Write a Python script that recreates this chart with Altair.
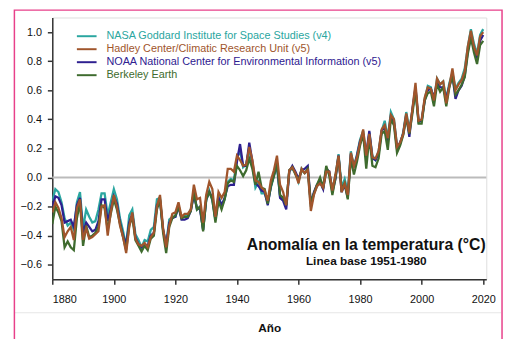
import altair as alt
import pandas as pd

years = list(range(1880, 2021))

series_names = [
    "NASA Goddard Institute for Space Studies (v4)",
    "Hadley Center/Climatic Research Unit (v5)",
    "NOAA National Center for Environmental Information (v5)",
    "Berkeley Earth",
]
series_colors = ["#2aa6a0", "#a0552c", "#2e2090", "#3e6b2e"]

nasa = [
    -0.16, -0.08, -0.10, -0.17, -0.28, -0.33, -0.31, -0.36, -0.17, -0.10,
    -0.35, -0.22, -0.27, -0.31, -0.30, -0.22, -0.11, -0.11, -0.26, -0.17,
    -0.08, -0.15, -0.28, -0.37, -0.47, -0.26, -0.22, -0.39, -0.43, -0.48,
    -0.43, -0.44, -0.36, -0.34, -0.15, -0.14, -0.36, -0.46, -0.29, -0.27,
    -0.27, -0.19, -0.28, -0.26, -0.27, -0.22, -0.10, -0.22, -0.20, -0.36,
    -0.16, -0.09, -0.16, -0.29, -0.12, -0.20, -0.15, -0.03, -0.01, -0.02,
    0.13, 0.19, 0.07, 0.09, 0.20, 0.09, -0.07, -0.03, -0.11, -0.11,
    -0.17, -0.07, 0.01, 0.08, -0.13, -0.14, -0.19, 0.05, 0.06, 0.03,
    -0.03, 0.06, 0.03, 0.05, -0.20, -0.11, -0.06, -0.02, -0.08, 0.05,
    0.03, -0.08, 0.01, 0.16, -0.07, -0.01, -0.10, 0.18, 0.07, 0.16,
    0.26, 0.32, 0.14, 0.31, 0.15, 0.12, 0.18, 0.32, 0.39, 0.27,
    0.45, 0.40, 0.22, 0.23, 0.31, 0.45, 0.33, 0.46, 0.61, 0.38,
    0.39, 0.54, 0.63, 0.62, 0.53, 0.68, 0.64, 0.66, 0.54, 0.65,
    0.72, 0.61, 0.65, 0.68, 0.75, 0.90, 1.02, 0.92, 0.85, 0.98, 1.02,
]

hadley = [
    -0.24, -0.17, -0.21, -0.28, -0.41, -0.37, -0.34, -0.43, -0.21, -0.15,
    -0.43, -0.35, -0.42, -0.41, -0.39, -0.37, -0.20, -0.19, -0.40, -0.24,
    -0.12, -0.20, -0.33, -0.41, -0.52, -0.34, -0.24, -0.42, -0.46, -0.47,
    -0.45, -0.48, -0.41, -0.38, -0.20, -0.12, -0.35, -0.48, -0.33, -0.25,
    -0.24, -0.17, -0.27, -0.25, -0.25, -0.22, -0.05, -0.15, -0.14, -0.31,
    -0.12, -0.03, -0.08, -0.27, -0.10, -0.14, -0.10, 0.06, 0.06, 0.04,
    0.15, 0.12, 0.08, 0.09, 0.21, 0.12, -0.02, -0.03, -0.07, -0.09,
    -0.16, -0.02, 0.05, 0.15, -0.05, -0.10, -0.19, 0.05, 0.07, 0.03,
    -0.04, 0.06, 0.03, 0.05, -0.23, -0.12, -0.06, -0.04, -0.07, 0.04,
    0.04, -0.09, 0.02, 0.15, -0.10, -0.04, -0.12, 0.17, 0.08, 0.14,
    0.24, 0.33, 0.15, 0.30, 0.14, 0.13, 0.18, 0.33, 0.36, 0.27,
    0.43, 0.40, 0.21, 0.24, 0.30, 0.44, 0.31, 0.47, 0.65, 0.39,
    0.40, 0.55, 0.62, 0.61, 0.53, 0.68, 0.64, 0.66, 0.51, 0.63,
    0.75, 0.60, 0.64, 0.67, 0.73, 0.90, 1.01, 0.90, 0.84, 0.97, 1.00,
]

noaa = [
    -0.20, -0.13, -0.14, -0.19, -0.31, -0.30, -0.29, -0.34, -0.19, -0.14,
    -0.38, -0.31, -0.34, -0.37, -0.36, -0.30, -0.15, -0.15, -0.30, -0.22,
    -0.13, -0.18, -0.31, -0.40, -0.46, -0.31, -0.25, -0.41, -0.46, -0.48,
    -0.46, -0.47, -0.40, -0.38, -0.19, -0.16, -0.36, -0.47, -0.31, -0.28,
    -0.27, -0.20, -0.29, -0.29, -0.28, -0.23, -0.12, -0.21, -0.22, -0.36,
    -0.15, -0.10, -0.14, -0.29, -0.14, -0.19, -0.14, -0.06, -0.05, -0.05,
    0.11, 0.23, 0.08, 0.08, 0.24, 0.11, -0.04, -0.06, -0.09, -0.10,
    -0.19, -0.06, 0.02, 0.10, -0.14, -0.16, -0.22, 0.04, 0.08, 0.04,
    -0.01, 0.05, 0.06, 0.08, -0.18, -0.10, -0.05, -0.03, -0.08, 0.06,
    0.04, -0.10, -0.01, 0.15, -0.10, -0.05, -0.14, 0.16, 0.07, 0.15,
    0.25, 0.29, 0.16, 0.32, 0.13, 0.12, 0.16, 0.32, 0.35, 0.25,
    0.42, 0.38, 0.20, 0.24, 0.30, 0.43, 0.28, 0.47, 0.62, 0.39,
    0.39, 0.53, 0.60, 0.61, 0.55, 0.65, 0.62, 0.62, 0.54, 0.63,
    0.70, 0.54, 0.60, 0.63, 0.70, 0.87, 0.97, 0.89, 0.82, 0.94, 0.98,
]

berkeley = [
    -0.32, -0.20, -0.24, -0.30, -0.48, -0.44, -0.48, -0.50, -0.28, -0.17,
    -0.47, -0.33, -0.41, -0.40, -0.38, -0.34, -0.19, -0.21, -0.36, -0.25,
    -0.15, -0.22, -0.32, -0.41, -0.50, -0.33, -0.27, -0.43, -0.47, -0.51,
    -0.47, -0.50, -0.42, -0.40, -0.22, -0.15, -0.38, -0.52, -0.34, -0.28,
    -0.26, -0.20, -0.28, -0.27, -0.27, -0.23, -0.10, -0.22, -0.20, -0.37,
    -0.15, -0.10, -0.15, -0.31, -0.16, -0.22, -0.15, -0.04, -0.02, -0.03,
    0.08, 0.05, 0.01, 0.05, 0.13, 0.06, -0.05, 0.04, -0.07, -0.08,
    -0.18, -0.06, 0.01, 0.10, -0.12, -0.14, -0.19, 0.05, 0.07, 0.02,
    -0.02, 0.05, 0.03, 0.06, -0.18, -0.11, -0.05, 0.00, -0.07, 0.08,
    0.01, -0.12, 0.00, 0.14, -0.08, -0.04, -0.15, 0.13, 0.02, 0.11,
    0.22, 0.30, 0.06, 0.28, 0.08, 0.07, 0.13, 0.30, 0.32, 0.19,
    0.40, 0.36, 0.17, 0.22, 0.29, 0.41, 0.30, 0.44, 0.60, 0.37,
    0.37, 0.53, 0.58, 0.59, 0.49, 0.64, 0.59, 0.62, 0.49, 0.62,
    0.70, 0.57, 0.60, 0.64, 0.69, 0.85, 0.96, 0.86, 0.78, 0.91, 0.94,
]

x_ticks = [1880, 1900, 1920, 1940, 1960, 1980, 2000, 2020]
y_ticks = [-0.6, -0.4, -0.2, 0.0, 0.2, 0.4, 0.6, 0.8, 1.0]

# draw order: NASA, NOAA, Berkeley, Hadley (Hadley on top)
values_by_name = {
    series_names[0]: nasa,
    series_names[1]: hadley,
    series_names[2]: noaa,
    series_names[3]: berkeley,
}
draw_order = [series_names[0], series_names[2], series_names[3], series_names[1]]
rows = []
for k, name in enumerate(draw_order):
    for yr, v in zip(years, values_by_name[name]):
        rows.append({"year": yr, "anom": v, "series": name, "ord": k})
df = pd.DataFrame(rows)

FONT = "Liberation Sans"

color_expr = " : ".join(
    f"datum.value === '{n}' ? '{c}'" for n, c in zip(series_names, series_colors)
) + " : '#333'"

xscale = alt.Scale(domain=[1880, 2021], nice=False, zero=False)
yscale = alt.Scale(domain=[-0.7, 1.1], nice=False, zero=False)

lines = alt.Chart(df).mark_line(strokeWidth=2.3, clip=True).encode(
    x=alt.X("year:Q", scale=xscale,
            axis=alt.Axis(values=x_ticks, format="d", title="Año", grid=False,
                          tickSize=5, tickColor="#333", domainColor="#333",
                          domainWidth=1.5, tickWidth=1.5, labelFontSize=11,
                          labelColor="#111", labelPadding=10, titleFontSize=12,
                          titleFontWeight="bold", titlePadding=18, labelFont=FONT,
                          titleFont=FONT, titleColor="#111", labelOverlap=False)),
    y=alt.Y("anom:Q", scale=yscale,
            axis=alt.Axis(values=y_ticks, title=None, grid=False, tickSize=5,
                          format=".1f", tickCount=9,
                          tickColor="#333", domainColor="#333", domainWidth=1.5,
                          tickWidth=1.5, labelFontSize=11, labelColor="#111",
                          labelPadding=6, labelFont=FONT, labelOverlap=False,
                          labelSeparation=0)),
    color=alt.Color("series:N", sort=series_names,
                    scale=alt.Scale(domain=series_names, range=series_colors),
                    legend=alt.Legend(title=None, orient="none", legendX=29, legendY=13,
                                      symbolType="M-2,0H2", symbolSize=100,
                                      symbolStrokeWidth=2, labelFontSize=11,
                                      labelFont=FONT, labelOffset=14, rowPadding=2.2,
                                      labelLimit=400,
                                      labelColor={"expr": color_expr})),
    detail="series:N",
    order="ord:Q",
)

zero_df = pd.DataFrame({"y": [0.0]})
zero = alt.Chart(zero_df).mark_rule(color="#bbbbbb", strokeWidth=2).encode(
    y=alt.Y("y:Q", scale=yscale)
)

title_df = pd.DataFrame({"t": ["Anomalía en la temperatura (°C)"]})
ann1 = alt.Chart(title_df).mark_text(fontSize=16, fontWeight="bold", font=FONT,
                                     color="#111", align="center", baseline="middle").encode(
    x=alt.value(319), y=alt.value(231), text="t:N")
sub_df = pd.DataFrame({"t": ["Linea base 1951-1980"]})
ann2 = alt.Chart(sub_df).mark_text(fontSize=12, fontWeight="bold", font=FONT,
                                   color="#111", align="center", baseline="middle").encode(
    x=alt.value(319), y=alt.value(247), text="t:N")

frame = alt.Chart(zero_df).mark_rect(filled=False, stroke="#e8408a", strokeWidth=1.5,
                                     clip=False).encode(
    x=alt.value(-38.5), x2=alt.value(457), y=alt.value(-7.5), y2=alt.value(340))
sep = alt.Chart(zero_df).mark_rule(color="#e6e6e6", strokeWidth=1, clip=False).encode(
    x=alt.value(-38), x2=alt.value(456), y=alt.value(300))

chart = alt.layer(zero, lines, ann1, ann2, sep, frame).properties(
    width=441, height=266,
    autosize=alt.AutoSizeParams(type="none"),
    padding={"left": 45, "top": 7, "right": 18, "bottom": 58},
).configure_view(stroke="#777", strokeWidth=1.5).configure(background="white")

chart.save("out.html", embed_options={"renderer": "svg", "actions": False})
